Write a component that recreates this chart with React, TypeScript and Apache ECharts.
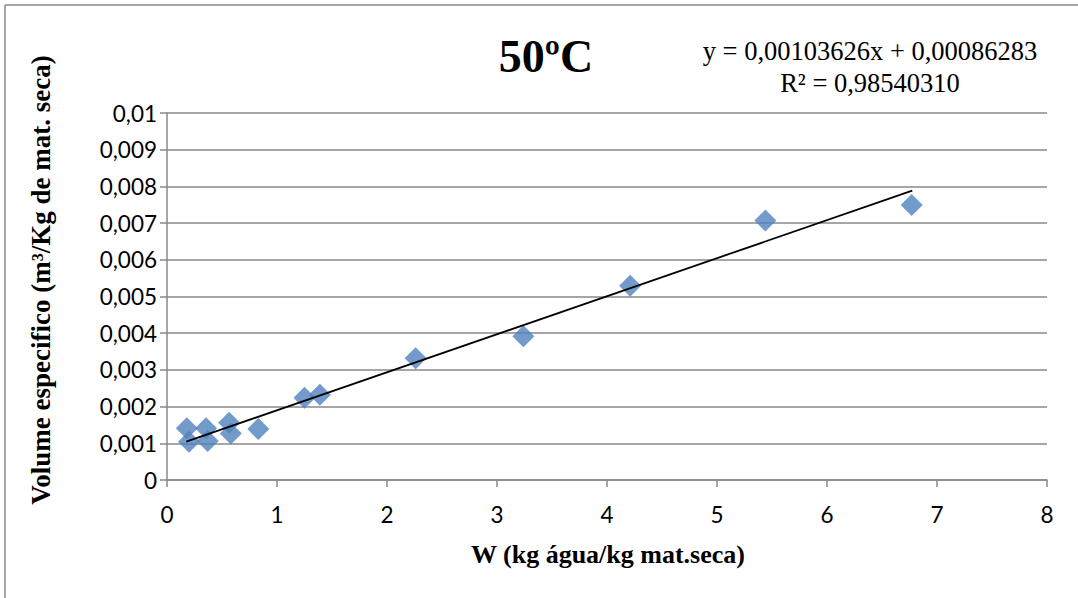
import React, { useEffect, useRef } from "react";
import * as echarts from "echarts";

const wValues = [0.18, 0.2, 0.355, 0.37, 0.565, 0.58, 0.83, 1.25, 1.39, 2.26, 3.24, 4.21, 5.44, 6.77];
const volumeValues = [0.00141, 0.00104, 0.00141, 0.00106, 0.00156, 0.00127, 0.00139, 0.00224, 0.00232, 0.00332, 0.00392, 0.00529, 0.00707, 0.00749];
const slope = 0.00103626;
const intercept = 0.00086283;
const titleText = "50ºC";
const equationText = "y = 0,00103626x + 0,00086283";
const r2Text = "R² = 0,98540310";
const xName = "W (kg água/kg mat.seca)";
const yName = "Volume especifico (m³/Kg de mat. seca)";

export default function App() {
  const ref = useRef<HTMLDivElement>(null);
  useEffect(() => {
    if (!ref.current) return;
    const chart = echarts.init(ref.current, null, { renderer: "svg" });
    const pts = wValues.map((x, i) => [x, volumeValues[i]]);
    const xMin = Math.min(...wValues) - 0.005;
    const xMax = Math.max(...wValues) + 0.005;
    const trend = [
      [xMin, slope * xMin + intercept],
      [xMax, slope * xMax + intercept],
    ];
    const labelFont = { fontFamily: "Lato", fontSize: 22.5, color: "#000" };
    const nameFont = { fontFamily: "Liberation Serif", fontWeight: "bold", fill: "#000" };
    chart.setOption({
      animation: false,
      backgroundColor: "#fff",
      grid: { left: 167, right: 31, top: 113, bottom: 118 },
      xAxis: {
        type: "value",
        min: 0,
        max: 8,
        interval: 1,
        axisLine: { show: true, lineStyle: { color: "#888", width: 1.5 } },
        axisTick: { show: true, length: 7, lineStyle: { color: "#888", width: 1.5 } },
        axisLabel: { ...labelFont, margin: 23 },
        splitLine: { show: false },
      },
      yAxis: {
        type: "value",
        min: 0,
        max: 0.01,
        interval: 0.001,
        axisLine: { show: true, lineStyle: { color: "#888", width: 1.5 } },
        axisTick: { show: true, length: 7, lineStyle: { color: "#888", width: 1.5 } },
        axisLabel: {
          ...labelFont,
          margin: 10,
          formatter: (v: number) => (v === 0 ? "0" : String(Number(v.toFixed(4))).replace(".", ",")),
        },
        splitLine: { show: true, lineStyle: { color: "#888", width: 1.5 } },
      },
      graphic: [
        { type: "line", shape: { x1: 5, y1: 5, x2: 1078, y2: 5 }, style: { stroke: "#888", lineWidth: 1.5 } },
        { type: "line", shape: { x1: 5, y1: 5, x2: 5, y2: 598 }, style: { stroke: "#888", lineWidth: 1.5 } },
        {
          type: "text",
          x: 546,
          y: 56,
          style: { text: titleText, ...nameFont, fontSize: 46, align: "center", verticalAlign: "middle" },
        },
        {
          type: "text",
          x: 870,
          y: 35,
          style: {
            text: equationText + "\n" + r2Text,
            fontFamily: "Liberation Serif",
            fontSize: 26.5,
            lineHeight: 32,
            fill: "#000",
            align: "center",
            verticalAlign: "top",
          },
        },
        {
          type: "text",
          x: 608,
          y: 554,
          style: { text: xName, ...nameFont, fontSize: 26, align: "center", verticalAlign: "middle" },
        },
        {
          type: "text",
          x: 41,
          y: 280,
          rotation: Math.PI / 2,
          style: { text: yName, ...nameFont, fontSize: 27, align: "center", verticalAlign: "middle" },
        },
      ],
      series: [
        {
          type: "scatter",
          data: pts,
          symbol: "diamond",
          symbolSize: 22,
          itemStyle: { color: "#4F81BD" },
          z: 2,
        },
        {
          type: "line",
          data: trend,
          showSymbol: false,
          symbol: "none",
          lineStyle: { color: "#000", width: 1.8 },
          z: 3,
        },
      ],
    });
    return () => chart.dispose();
  }, []);
  return <div ref={ref} style={{ position: "fixed", left: 0, top: 0, width: 1078, height: 598 }} />;
}
